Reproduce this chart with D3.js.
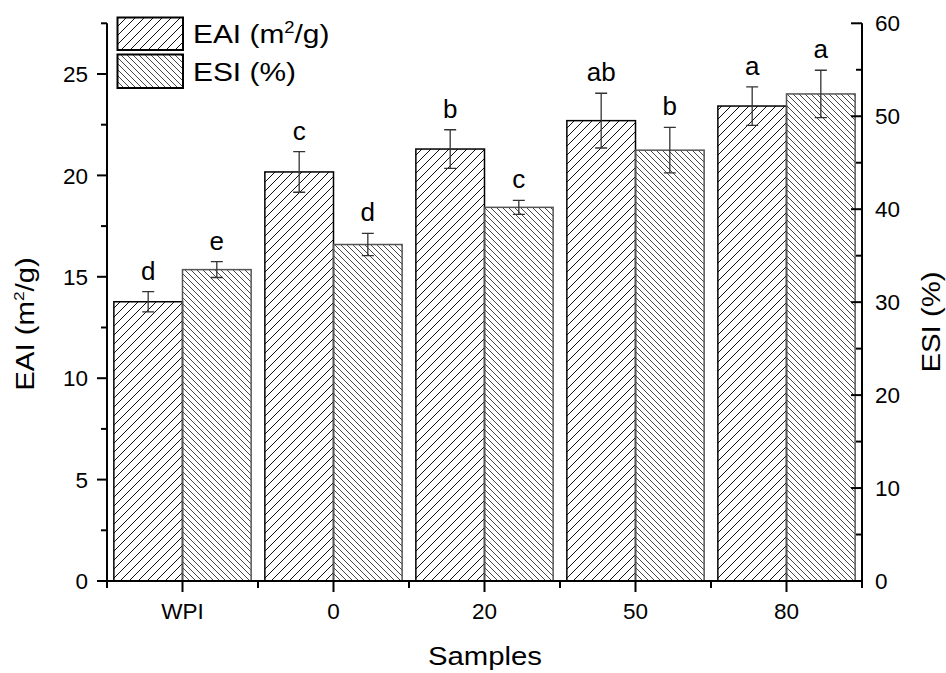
<!DOCTYPE html>
<html>
<head>
<meta charset="utf-8">
<script src="https://cdn.jsdelivr.net/npm/d3@7"></script>
<style>
  body { margin: 0; background: #fff; }
  text { font-family: "Liberation Sans", Arial, sans-serif; fill: #000; }
</style>
</head>
<body>
<div id="chart"></div>
<script>
var samples = ["WPI", "0", "20", "50", "80"];
var eai = [13.77, 20.17, 21.3, 22.7, 23.42];
var eaiErr = [0.5, 1.0, 0.95, 1.35, 0.95];
var esi = [33.5, 36.2, 40.2, 46.35, 52.4];
var esiErr = [0.85, 1.2, 0.75, 2.45, 2.55];
var eaiLetters = ["d", "c", "b", "ab", "a"];
var esiLetters = ["e", "d", "c", "b", "a"];
var leftTicks = [0, 5, 10, 15, 20, 25];
var rightTicks = [0, 10, 20, 30, 40, 50, 60];

function init() {
    createChart();
}

function createChart() {
    var width = 946, height = 673;
    var left = 107, right = 862, top = 23.3, bottom = 581;

    var svg = d3.select("div#chart").append("svg")
        .attr("width", width)
        .attr("height", height);

    var defs = svg.append("defs");
    // hatch for EAI  "/"
    var p1 = defs.append("pattern").attr("id", "hatchEAI")
        .attr("patternUnits", "userSpaceOnUse")
        .attr("width", 9).attr("height", 9);
    p1.append("path")
        .attr("d", "M-1,1 l2,-2 M0,9 l9,-9 M8,10 l2,-2")
        .attr("stroke", "#111").attr("stroke-width", 1);
    // hatch for ESI  "\"
    var p2 = defs.append("pattern").attr("id", "hatchESI")
        .attr("patternUnits", "userSpaceOnUse")
        .attr("width", 6).attr("height", 6);
    p2.append("path")
        .attr("d", "M0,0 l6,6 M-1,5 l2,2 M5,-1 l2,2")
        .attr("stroke", "#333").attr("stroke-width", 0.9);

    var x = d3.scaleBand().domain(samples).range([left, right]).paddingInner(0).paddingOuter(0);
    var inner = d3.scaleBand().domain(["eai", "esi"]).range([0, x.bandwidth()]).paddingOuter(0.1).paddingInner(0);
    var yL = d3.scaleLinear().domain([0, 27.5]).range([bottom, top]);
    var yR = d3.scaleLinear().domain([0, 60]).range([bottom, top]);

    var g = svg.append("g");

    // bars
    var groups = g.selectAll("g.grp").data(samples).enter().append("g")
        .attr("class", "grp")
        .attr("transform", function(d) { return "translate(" + x(d) + ",0)"; });

    groups.append("rect")
        .attr("x", inner("eai"))
        .attr("width", inner.bandwidth())
        .attr("y", function(d, i) { return yL(eai[i]); })
        .attr("height", function(d, i) { return bottom - yL(eai[i]); })
        .attr("fill", "url(#hatchEAI)")
        .attr("stroke", "#000").attr("stroke-width", 1.5);

    groups.append("rect")
        .attr("x", inner("esi"))
        .attr("width", inner.bandwidth())
        .attr("y", function(d, i) { return yR(esi[i]); })
        .attr("height", function(d, i) { return bottom - yR(esi[i]); })
        .attr("fill", "url(#hatchESI)")
        .attr("stroke", "#555").attr("stroke-width", 1.5);

    // error bars
    function errBar(sel, cx, yv, ev, scale) {
        var cap = 6;
        sel.append("path")
            .attr("d", function(d, i) {
                var t = scale(yv[i] + ev[i]), b = scale(yv[i] - ev[i]);
                return "M" + cx + "," + t + "V" + b +
                    "M" + (cx - cap) + "," + t + "H" + (cx + cap) +
                    "M" + (cx - cap) + "," + b + "H" + (cx + cap);
            })
            .attr("fill", "none").attr("stroke", "#333").attr("stroke-width", 1.3);
    }
    var cxE = inner("eai") + inner.bandwidth() / 2;
    var cxS = inner("esi") + inner.bandwidth() / 2;
    errBar(groups, cxE, eai, eaiErr, yL);
    errBar(groups, cxS, esi, esiErr, yR);

    // significance letters
    groups.append("text")
        .attr("x", cxE)
        .attr("y", function(d, i) { return yL(eai[i] + eaiErr[i]) - 12; })
        .attr("text-anchor", "middle").attr("font-size", 26)
        .text(function(d, i) { return eaiLetters[i]; });
    groups.append("text")
        .attr("x", cxS)
        .attr("y", function(d, i) { return yR(esi[i] + esiErr[i]) - 12; })
        .attr("text-anchor", "middle").attr("font-size", 26)
        .text(function(d, i) { return esiLetters[i]; });

    // axes lines
    var ax = svg.append("g").attr("stroke", "#000").attr("stroke-width", 2).attr("fill", "none");
    ax.append("path").attr("d", "M" + left + "," + top + "V" + bottom + "H" + right + "V" + top);

    // left ticks
    var lMinor = d3.range(2.5, 28, 5);
    ax.selectAll("line.lt").data(leftTicks).enter().append("line")
        .attr("x1", left - 10).attr("x2", left)
        .attr("y1", function(d) { return yL(d); }).attr("y2", function(d) { return yL(d); });
    ax.selectAll("line.lm").data(lMinor).enter().append("line")
        .attr("x1", left - 6).attr("x2", left)
        .attr("y1", function(d) { return yL(d); }).attr("y2", function(d) { return yL(d); });
    svg.selectAll("text.ll").data(leftTicks).enter().append("text")
        .attr("x", left - 19).attr("y", function(d) { return yL(d); })
        .attr("dy", "0.36em").attr("text-anchor", "end").attr("font-size", 22.5)
        .text(function(d) { return d; });

    // right ticks (inward)
    var rMinor = d3.range(5, 60, 10);
    ax.selectAll("line.rt").data(rightTicks).enter().append("line")
        .attr("x1", right - 11).attr("x2", right)
        .attr("y1", function(d) { return yR(d); }).attr("y2", function(d) { return yR(d); });
    ax.selectAll("line.rm").data(rMinor).enter().append("line")
        .attr("x1", right - 6).attr("x2", right)
        .attr("y1", function(d) { return yR(d); }).attr("y2", function(d) { return yR(d); });
    svg.selectAll("text.rl").data(rightTicks).enter().append("text")
        .attr("x", right + 13).attr("y", function(d) { return yR(d); })
        .attr("dy", "0.36em").attr("text-anchor", "start").attr("font-size", 22.5)
        .text(function(d) { return d; });

    // bottom ticks
    ax.selectAll("line.bt").data(samples).enter().append("line")
        .attr("x1", function(d) { return x(d) + x.bandwidth() / 2; })
        .attr("x2", function(d) { return x(d) + x.bandwidth() / 2; })
        .attr("y1", bottom).attr("y2", bottom + 11);
    var edges = samples.map(function(d) { return x(d); }).concat([right]);
    ax.selectAll("line.bm").data(edges).enter().append("line")
        .attr("x1", function(d) { return d; }).attr("x2", function(d) { return d; })
        .attr("y1", bottom).attr("y2", bottom + 7);
    svg.selectAll("text.bl").data(samples).enter().append("text")
        .attr("x", function(d) { return x(d) + x.bandwidth() / 2; })
        .attr("y", 619)
        .attr("text-anchor", "middle").attr("font-size", 22.5)
        .text(function(d) { return d; });

    // axis titles
    svg.append("text")
        .attr("transform", "translate(485,665) scale(1.15,1)")
        .attr("text-anchor", "middle").attr("font-size", 25.5)
        .text("Samples");
    var t2 = svg.append("text")
        .attr("transform", "translate(34,324) rotate(-90) scale(1.15,1)")
        .attr("text-anchor", "middle").attr("font-size", 25.5);
    t2.append("tspan").text("EAI (m");
    t2.append("tspan").attr("font-size", 15).attr("dy", -10).text("2");
    t2.append("tspan").attr("dy", 10).text("/g)");
    svg.append("text")
        .attr("transform", "translate(940,322) rotate(-90) scale(1.15,1)")
        .attr("text-anchor", "middle").attr("font-size", 25.5)
        .text("ESI (%)");

    // legend
    var legend = svg.append("g");
    legend.append("rect").attr("x", 117.5).attr("y", 17.5).attr("width", 65.5).attr("height", 32.5)
        .attr("fill", "url(#hatchEAI)").attr("stroke", "#000").attr("stroke-width", 2);
    legend.append("rect").attr("x", 117.5).attr("y", 54.5).attr("width", 65.5).attr("height", 33.5)
        .attr("fill", "url(#hatchESI)").attr("stroke", "#000").attr("stroke-width", 2);
    var l1 = legend.append("text")
        .attr("transform", "translate(193,43) scale(1.15,1)")
        .attr("font-size", 26);
    l1.append("tspan").text("EAI (m");
    l1.append("tspan").attr("font-size", 16).attr("dy", -10).text("2");
    l1.append("tspan").attr("dy", 10).text("/g)");
    legend.append("text")
        .attr("transform", "translate(193,81) scale(1.15,1)")
        .attr("font-size", 26)
        .text("ESI (%)");
}

init();
</script>
</body>
</html>
